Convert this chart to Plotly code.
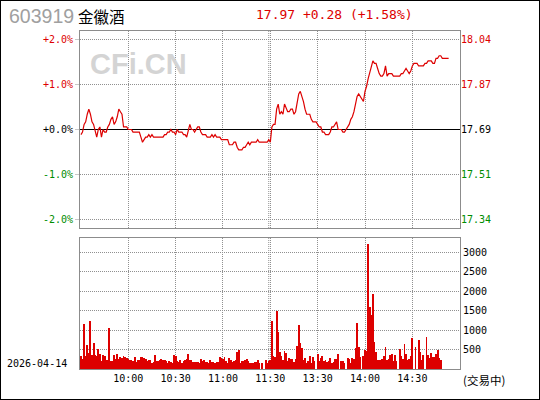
import plotly.graph_objects as go

# ---- data ----
code = "603919"
name = "金徽酒"
trade_date = "2026-04-14"
status = "(交易中)"
base = 17.69  # previous close

prices = [
    17.67, 17.68, 17.71, 17.72, 17.75, 17.77, 17.75, 17.72, 17.71, 17.68,
    17.66, 17.69, 17.70, 17.66, 17.69, 17.68, 17.68, 17.70, 17.71, 17.73,
    17.74, 17.71, 17.72, 17.74, 17.77, 17.76, 17.75, 17.70, 17.70, 17.70,
    17.69, 17.69, 17.69, 17.68, 17.68, 17.68, 17.68, 17.68, 17.66, 17.64,
    17.65, 17.66, 17.66, 17.67, 17.66, 17.67, 17.66, 17.66, 17.66, 17.66,
    17.66, 17.66, 17.66, 17.67, 17.67, 17.68, 17.68, 17.69, 17.68, 17.68,
    17.67, 17.69, 17.68, 17.68, 17.68, 17.67, 17.67, 17.66, 17.69, 17.71,
    17.69, 17.69, 17.68, 17.69, 17.70, 17.70, 17.68, 17.67, 17.67, 17.67,
    17.66, 17.66, 17.66, 17.67, 17.66, 17.67, 17.66, 17.66, 17.66, 17.65,
    17.65, 17.65, 17.65, 17.65, 17.63, 17.63, 17.63, 17.64, 17.64, 17.62,
    17.61, 17.61, 17.61, 17.62, 17.62, 17.63, 17.64, 17.63, 17.64, 17.64,
    17.64, 17.64, 17.65, 17.64, 17.64, 17.64, 17.64, 17.64, 17.64, 17.65,
    17.64,
    17.70, 17.71, 17.71, 17.77, 17.79, 17.75, 17.76, 17.75, 17.79,
    17.77, 17.76, 17.76, 17.77, 17.77, 17.75, 17.76, 17.79, 17.83, 17.84,
    17.82, 17.80, 17.77, 17.75, 17.75, 17.75, 17.73, 17.72, 17.72, 17.72,
    17.71, 17.70, 17.70, 17.68, 17.68, 17.67, 17.67, 17.67, 17.68, 17.70,
    17.70, 17.71, 17.72, 17.69, 17.69, 17.69, 17.68, 17.68, 17.69, 17.70,
    17.71, 17.73, 17.74, 17.76, 17.79, 17.82, 17.83, 17.82, 17.81, 17.80,
    17.84, 17.86, 17.89, 17.91, 17.94, 17.96, 17.95, 17.95, 17.93, 17.91,
    17.90, 17.90, 17.91, 17.94, 17.90, 17.91, 17.91, 17.91, 17.90, 17.90,
    17.90, 17.90, 17.90, 17.91, 17.91, 17.92, 17.93, 17.92, 17.91, 17.92,
    17.94, 17.95, 17.95, 17.95, 17.94, 17.94, 17.94, 17.94, 17.95, 17.95,
    17.96, 17.96, 17.96, 17.95, 17.95, 17.97, 17.97, 17.98, 17.98, 17.97,
    17.97, 17.97, 17.97, 17.97,
]

volumes = [
    342, 250, 1163, 342, 624, 419, 1240, 368, 675, 368,
    342, 521, 393, 214, 368, 342, 239, 239, 1060, 214,
    214, 368, 265, 393, 265, 316, 290, 342, 316, 290,
    265, 239, 239, 214, 316, 188, 239, 239, 316, 316,
    290, 265, 214, 239, 239, 162, 188, 368, 214, 214,
    239, 265, 239, 239, 214, 162, 214, 188, 162, 368,
    342, 214, 188, 239, 162, 214, 239, 250, 393, 239,
    239, 188, 188, 188, 188, 162, 265, 214, 239, 188,
    188, 162, 239, 188, 188, 162, 188, 188, 316, 290,
    265, 316, 200, 162, 290, 239, 188, 214, 239, 445,
    496, 162, 214, 214, 239, 265, 214, 162, 162, 162,
    188, 188, 239, 162, 0, 162, 0, 239, 162, 214,
    239, 1240, 342, 316, 1496, 958, 445, 342, 239, 470,
    419, 214, 290, 265, 265, 188, 265, 598, 1137, 675,
    547, 239, 290, 162, 214, 342, 162, 316, 214, 0,
    393, 214, 290, 342, 214, 239, 188, 214, 290, 162,
    188, 265, 265, 393, 0, 214, 214, 162, 0, 290,
    265, 162, 290, 265, 547, 1188, 573, 316, 0, 342,
    496, 470, 3215, 1599, 1394, 1932, 701, 445, 239, 239,
    239, 265, 342, 573, 239, 265, 368, 393, 214, 368,
    214, 0, 521, 342, 265, 650, 393, 239, 265, 342,
    804, 0, 573, 0, 752, 445, 239, 368, 0, 829,
    368, 290, 419, 316, 316, 393, 496, 290, 239,
]

pct_ticks = [-2, -1, 0, 1, 2]
time_ticks = [30, 60, 90, 120, 150, 180, 210]
time_labels = ["10:00", "10:30", "11:00", "11:30", "13:30", "14:00", "14:30"]
vol_ticks = [500, 1000, 1500, 2000, 2500, 3000]

RED = "#dd0000"
GREEN = "#008c00"
GRID = "#909090"
BORDER = "#8c8c8c"
MONO = "DejaVu Sans Mono"

minutes = list(range(len(prices)))
vol_minutes = list(range(len(volumes)))
pct_span = 2.19
xr = [-0.6, 240.2]


def colored(txt, v):
    c = RED if v > 0 else (GREEN if v < 0 else "black")
    return '<span style="color:%s">%s</span>' % (c, txt)


price_ticks = [base * (1 + p / 100) for p in pct_ticks]
left_text = [colored("%+.1f%%" % p, p) for p in pct_ticks]
right_text = [colored("%.2f" % v, p) for v, p in zip(price_ticks, pct_ticks)]

last = prices[-1]
chg = last - base
head = "%.2f %+.2f (%+.2f%%)" % (last, chg, chg / base * 100)

fig = go.Figure()
fig.add_trace(go.Scatter(x=minutes, y=[(p / base - 1) * 100 for p in prices],
                         mode="lines", line=dict(color="rgba(0,0,0,0)", width=1),
                         hoverinfo="skip", showlegend=False))
fig.add_trace(go.Scatter(x=minutes, y=prices, mode="lines", xaxis="x", yaxis="y2",
                         line=dict(color=RED, width=1.2), showlegend=False))
fig.add_trace(go.Bar(x=vol_minutes, y=volumes, xaxis="x2", yaxis="y3",
                     marker=dict(color=RED, line=dict(width=0)), width=0.55,
                     showlegend=False))

P_H = 338.0
top_dom = [(369 - 228) / P_H, 1]
vol_dom = [0, (369 - 238) / P_H]

grid = dict(showgrid=True, gridcolor=GRID, gridwidth=1, griddash="1px,1px")
frame = dict(showline=True, mirror=True, linecolor=BORDER, linewidth=1)

fig.update_layout(
    width=540, height=400,
    margin=dict(l=80, r=80, t=31, b=31, autoexpand=False),
    paper_bgcolor="white", plot_bgcolor="white",
    bargap=0,
    xaxis=dict(domain=[0, 1], anchor="y", range=xr, tickvals=time_ticks,
               showticklabels=False, zeroline=False, ticks="", **grid, **frame),
    yaxis=dict(domain=top_dom, anchor="x", range=[-pct_span, pct_span],
               tickvals=pct_ticks, ticktext=left_text,
               tickfont=dict(family=MONO, size=10, color="black"),
               ticks="outside", ticklen=4, tickcolor="#c8c8c8",
               zeroline=True, zerolinecolor="black", zerolinewidth=1,
               **grid, **frame),
    yaxis2=dict(overlaying="y", side="right", anchor="x",
                range=[base * (1 - pct_span / 100), base * (1 + pct_span / 100)],
                tickvals=price_ticks, ticktext=right_text,
                tickfont=dict(family=MONO, size=10, color="black"),
                showgrid=False, zeroline=False, ticks=""),
    xaxis2=dict(domain=[0, 1], anchor="y3", range=xr, tickvals=time_ticks,
                ticktext=time_labels, tickfont=dict(family=MONO, size=10, color="black"),
                zeroline=False, ticks="", **grid, **frame),
    yaxis3=dict(domain=vol_dom, anchor="x2", side="right", range=[0, 3360],
                tickvals=vol_ticks, tickfont=dict(family=MONO, size=10, color="black"),
                zeroline=False, ticks="", **grid, **frame),
)

# second line of the lunch break (11:30 / 13:00)
for xref, yref in (("x", "y domain"), ("x2", "y3 domain")):
    fig.add_shape(type="line", xref=xref, yref=yref, x0=119, x1=119, y0=0, y1=1,
                  line=dict(color=GRID, width=1, dash="1px,1px"), layer="below")

# outer frame
fig.add_shape(type="rect", xref="paper", yref="paper",
              x0=-80 / 380, x1=1 + 80 / 380, y0=-31 / P_H, y1=1 + 31 / P_H,
              line=dict(color="black", width=2))


def px(x):
    return (x - 80) / 380.0


def py(y):
    return (369 - y) / P_H


notes = [
    (code, 8, 16, dict(family="Liberation Sans", size=19.5, color="#a0a0a0")),
    (name, 77, 15.5, dict(family="Noto Sans CJK SC", size=15.5, color="black")),
    (head, 255, 15, dict(family=MONO, size=13, color=RED)),
    ("<b>CFi.CN</b>", 89, 64, dict(family="Liberation Sans", size=29, color="#d4d4d4")),
    (trade_date, 6, 363, dict(family=MONO, size=10, color="black")),
    (status, 462, 380, dict(family="Noto Sans CJK SC", size=11.5, color="black")),
]
for txt, x, y, f in notes:
    fig.add_annotation(text=txt, x=px(x), y=py(y), xref="paper", yref="paper",
                       xanchor="left", yanchor="middle", showarrow=False,
                       font=f, borderpad=0)

fig.write_html("out.html", config={"displayModeBar": False},
               post_script="document.body.style.margin='0';")
